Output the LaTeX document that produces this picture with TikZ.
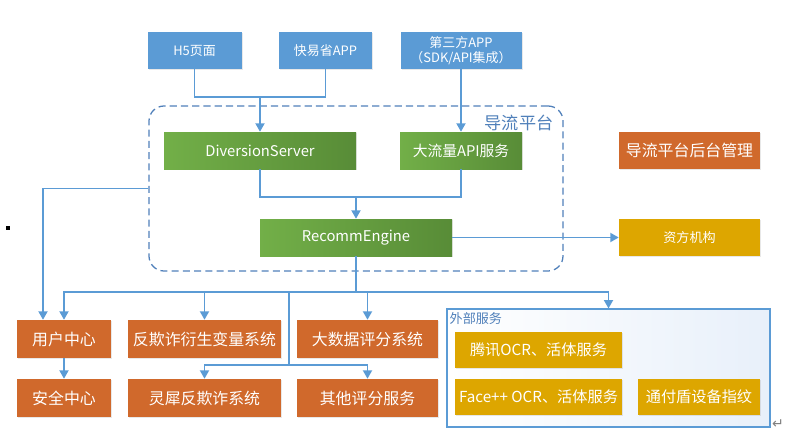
\documentclass[tikz,border=0pt]{standalone}
\usepackage{fontspec}
\setmainfont{Noto Sans CJK SC}
\newfontfamily\symfont{DejaVu Sans}
\usepackage{tikz}
\usetikzlibrary{arrows.meta,calc,shadows}
\definecolor{BoxBlue}{RGB}{91,155,213}
\definecolor{LineBlue}{RGB}{91,155,213}
\definecolor{FrameBlue}{RGB}{80,128,186}
\definecolor{GreenLight}{RGB}{114,175,72}
\definecolor{GreenDark}{RGB}{88,140,55}
\definecolor{BoxOrange}{RGB}{208,105,44}
\definecolor{BoxGold}{RGB}{221,166,0}
\definecolor{BlueTint}{RGB}{232,240,250}
\newcommand{\pxu}{0.025cm}

\begin{document}
\begin{tikzpicture}[x=0.025cm,y=-0.025cm,>={Triangle[length=6pt,width=6.5pt]},
  box/.style={draw=none,text=white,inner sep=0pt,align=center,
    drop shadow={opacity=0.18,shadow xshift=1pt,shadow yshift=-1pt}},
  entry/.style={box,fill=BoxBlue,minimum height=37*\pxu,font=\fontsize{9.2}{10.6}\selectfont},
  core/.style={box,left color=GreenLight,right color=GreenDark,minimum height=37*\pxu,
    font=\fontsize{10.5}{12}\selectfont},
  sys/.style={box,fill=BoxOrange,minimum height=38*\pxu,font=\fontsize{11.3}{13}\selectfont},
  ext/.style={box,fill=BoxGold,minimum height=36*\pxu,font=\fontsize{10.8}{13}\selectfont},
  link/.style={LineBlue,line width=1.05pt}]
  \useasboundingbox (0,0) rectangle (800,434);

  % platform frame
  \node[draw=FrameBlue,dashed,dash pattern=on 5pt off 3pt,line width=0.9pt,rounded corners=0.375cm,
    minimum width=414*\pxu,minimum height=165*\pxu] (pt) at (356,188.5) {};
  \node[text=FrameBlue,font=\fontsize{12.2}{14}\selectfont,inner sep=0pt] (ptl) at (519,123) {导流平台};

  % entries
  \node[entry,minimum width=94*\pxu] (h5) at (194.5,50.5) {H5页面};
  \node[entry,minimum width=93*\pxu] (kys) at (325.5,50.5) {快易省APP};
  \node[entry,minimum width=121*\pxu] (dsf) at (461,50.5) {第三方APP\\（SDK/API集成）};

  % core services
  \node[core,minimum width=192*\pxu] (ds) at (260,150.5) {DiversionServer};
  \node[core,minimum width=122*\pxu] (dll) at (461,150.5) {大流量API服务};
  \node[core,minimum width=192*\pxu] (re) at (356,237.5) {RecommEngine};

  % right side
  \node[sys,minimum width=141*\pxu,minimum height=37*\pxu] (hm) at (689.5,150.5) {导流平台后台管理};
  \node[ext,minimum width=141*\pxu,minimum height=37*\pxu,font=\fontsize{9.3}{11}\selectfont] (zf) at (689.5,237.5) {资方机构};

  % systems
  \node[sys,minimum width=94*\pxu] (yh) at (64,339) {用户中心};
  \node[sys,minimum width=94*\pxu] (aq) at (64,398) {安全中心};
  \node[sys,minimum width=153*\pxu] (ff) at (204.5,339) {反欺诈衍生变量系统};
  \node[sys,minimum width=153*\pxu] (lx) at (204.5,398) {灵犀反欺诈系统};
  \node[sys,minimum width=141*\pxu] (dsj) at (367.5,339) {大数据评分系统};
  \node[sys,minimum width=141*\pxu] (qt) at (367.5,398) {其他评分服务};

  % external services
  \node[draw=LineBlue,line width=0.8pt,left color=white,right color=BlueTint,
    minimum width=323*\pxu,minimum height=118*\pxu] (wb) at (608.5,368) {};
  \node[anchor=north west,text=FrameBlue,font=\fontsize{9.3}{11}\selectfont,inner sep=1pt] (wbl) at (448,311) {外部服务};
  \node[ext,minimum width=167*\pxu] (tx) at (538.5,349.5) {腾讯OCR、活体服务};
  \node[ext,minimum width=167*\pxu] (fp) at (538.5,397) {Face++ OCR、活体服务};
  \node[ext,minimum width=122*\pxu] (tfd) at (699,397) {通付盾设备指纹};

  % stray marks
  \node[fill=black,minimum size=4*\pxu,inner sep=0pt] (dot) at (8,228) {};
  \node[text=gray,font=\symfont\fontsize{10}{12}\selectfont,inner sep=0pt] (ret) at (778,424) {↵};

  % connectors
  \coordinate (j1) at (260,97);
  \coordinate (j2) at (356,197);
  \coordinate (lft) at (43,0);
  \coordinate (bus) at (356,292);
  \coordinate (b2) at (289,365);
  \draw[link] (h5.south) |- (j1) -| (kys.south);
  \draw[link,->] (j1) -- (ds.north);
  \draw[link,->] (dsf.south) -- (dll.north);
  \draw[link] (ds.south) |- (j2) -| (dll.south);
  \draw[link,->] (j2) -- (re.north);
  \draw[link,->] (re.east) -- (zf.west);
  \draw[link,->] (pt.west) -| (lft |- yh.north);
  \draw[link] (re.south) -- (bus);
  \draw[link,->] (bus) -| (yh.north);
  \draw[link,->] (bus) -| (wb.north);
  \draw[link,->] (ff.north |- bus) -- (ff.north);
  \draw[link,->] (dsj.north |- bus) -- (dsj.north);
  \draw[link] (b2 |- bus) -- (b2);
  \draw[link,->] (b2) -| (lx.north);
  \draw[link,->] (b2) -| (qt.north);
  \draw[link,->] (yh.south) -- (aq.north);
\end{tikzpicture}
\end{document}
